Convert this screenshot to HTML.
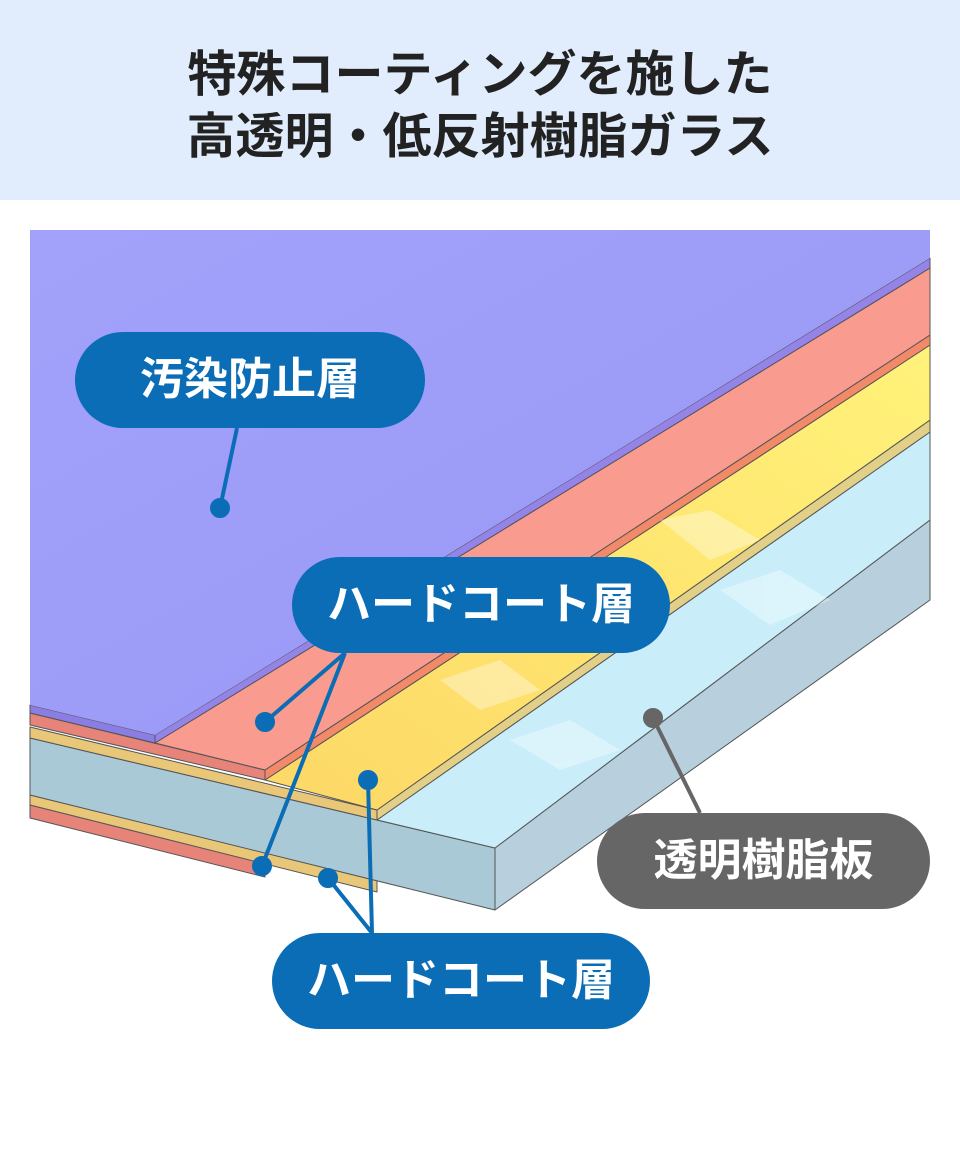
<!DOCTYPE html>
<html><head><meta charset="utf-8"><style>
body{margin:0;width:960px;height:1160px;background:#fff;font-family:"Liberation Sans","Noto Sans CJK JP",sans-serif;position:relative;overflow:hidden}
.hd{position:absolute;left:0;top:0;width:960px;height:200px;background:#e1edfc;text-align:center;font-weight:bold;font-size:49px;color:#222;line-height:62px;padding-top:44px;box-sizing:border-box}
svg{position:absolute;left:0;top:0}
.pill{position:absolute;border-radius:48px;background:#0a6db5;color:#fff;font-size:44px;font-weight:bold;text-align:center;line-height:96px;height:96px}
</style></head><body>
<div class="hd">特殊コーティングを施した<br>高透明・低反射樹脂ガラス</div>
<svg width="960" height="1160" viewBox="0 0 960 1160">
<defs>
<linearGradient id="pg" x1="0" y1="0" x2="1" y2="1"><stop offset="0" stop-color="#a2a2fb"/><stop offset="1" stop-color="#9898f6"/></linearGradient>
<linearGradient id="yg" x1="0" y1="1" x2="1" y2="0"><stop offset="0" stop-color="#fdd866"/><stop offset="1" stop-color="#fff27a"/></linearGradient>
</defs>
<g stroke="#555" stroke-width="1" stroke-linejoin="round">
<polygon points="30,805 265,862 265,877 30,818" fill="#e6847a"/>
<polygon points="30,795 377,880 377,892 30,805" fill="#e9c779"/>
<polygon points="30,738 495,848 495,910 30,795" fill="#a9c9d7"/>
<polygon points="495,848 930,520 930,600 495,910" fill="#b8d0dd"/>
<polygon points="377,820 930,432 930,520 495,848" fill="#c9eefa"/>
<polygon points="30,727 377,810 377,820 30,738" fill="#e9c779"/>
<polygon points="377,810 930,420 930,432 377,820" fill="#e3d088"/>
<polygon points="265,780 930,345 930,420 377,810" fill="url(#yg)"/>
<polygon points="30,713 265,770 265,780 30,725" fill="#e6847a"/>
<polygon points="265,770 930,335 930,345 265,780" fill="#f28a6a"/>
<polygon points="155,743 930,268 930,335 265,770" fill="#fa9b8f"/>
<polygon points="30,705 155,735 155,743 30,713" fill="#8a7ee4"/>
<polygon points="155,735 930,258 930,268 155,743" fill="#9484e8"/>
<polygon points="30,230 930,230 930,258 155,735 30,705" fill="url(#pg)" stroke="none"/>
</g>
<g fill="#fff" opacity="0.35">
<polygon points="660,520 710,510 760,540 710,560"/>
<polygon points="720,590 780,570 830,600 770,625"/>
<polygon points="440,680 500,660 540,690 480,710"/>
<polygon points="510,740 570,720 620,750 560,770"/>
</g>
<g stroke="#0a6db5" stroke-width="4" fill="#0a6db5">
<line x1="237" y1="428" x2="220" y2="508"/><circle cx="220" cy="508" r="8"/>
<line x1="345" y1="653" x2="265" y2="722"/><circle cx="265" cy="722" r="8"/>
<line x1="345" y1="653" x2="262" y2="866"/><circle cx="262" cy="866" r="8"/>
<line x1="372" y1="933" x2="328" y2="878"/><circle cx="328" cy="878" r="8"/>
<line x1="372" y1="933" x2="368" y2="780"/><circle cx="368" cy="780" r="8"/>
</g>
<g stroke="#666" stroke-width="4" fill="#666">
<line x1="700" y1="813" x2="653" y2="718"/><circle cx="653" cy="718" r="8"/>
</g>
</svg>
<div class="pill" style="left:75px;top:332px;width:350px">汚染防止層</div>
<div class="pill" style="left:292px;top:557px;width:378px">ハードコート層</div>
<div class="pill" style="left:272px;top:933px;width:378px">ハードコート層</div>
<div class="pill" style="left:597px;top:813px;width:333px;background:#666">透明樹脂板</div>
</body></html>
